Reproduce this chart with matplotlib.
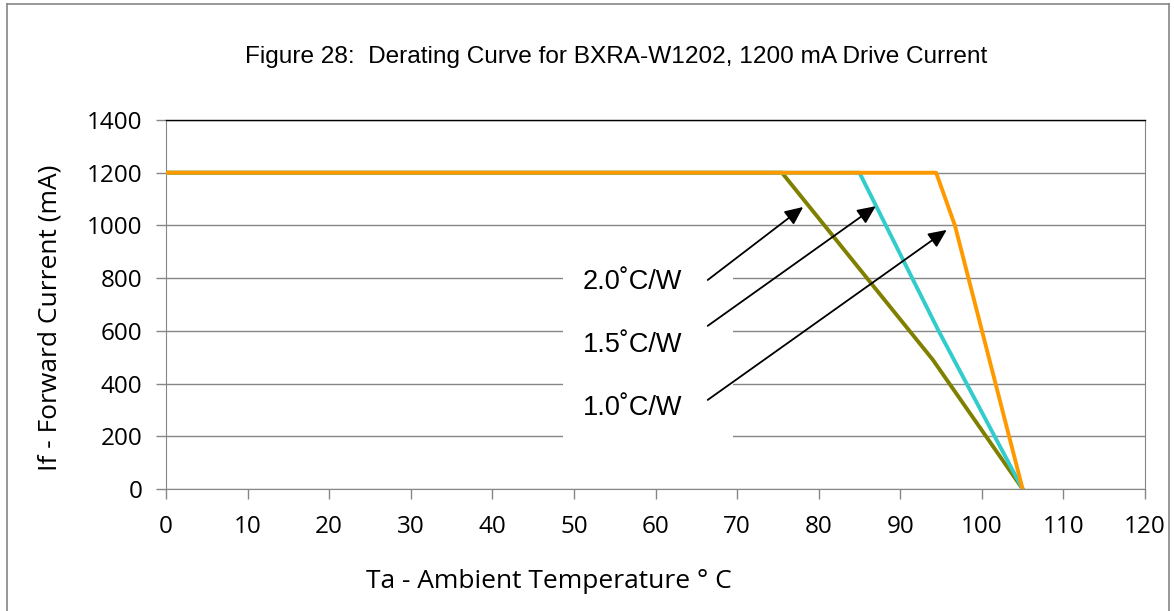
import matplotlib
matplotlib.use("Agg")
import matplotlib.pyplot as plt
from matplotlib.patches import Rectangle
from matplotlib.lines import Line2D

# derating curves (Ta in C, If in mA)
ta_2p0 = [0, 75.5, 94.0, 105]
if_2p0 = [1200, 1200, 490, 0]
ta_1p5 = [0, 85, 94.7, 105]
if_1p5 = [1200, 1200, 600, 0]
ta_1p0 = [0, 94.4, 96.7, 105]
if_1p0 = [1200, 1200, 1000, 0]

labels = ["2.0˚C/W", "1.5˚C/W", "1.0˚C/W"]
label_y = [785, 546, 307]
arrow_tail_y = [793, 619, 338]
arrow_tip = [(78.1, 1070), (87.0, 1073), (95.7, 983)]

grid_col = "#868686"

fig = plt.figure(figsize=(11.74, 6.11), dpi=100)
ax = fig.add_axes([166 / 1174, 1 - 489 / 611, (1145 - 166) / 1174, (489 - 120) / 611])

ax.set_xlim(0, 120)
ax.set_ylim(0, 1400)
ax.set_xticks(range(0, 121, 10))
ax.set_yticks(range(0, 1401, 200))
ax.yaxis.grid(True, color=grid_col, linewidth=1.0)
ax.set_axisbelow(True)

for s in ["left", "bottom", "right"]:
    ax.spines[s].set_color(grid_col)
ax.spines["top"].set_color("black")
ax.spines["top"].set_linewidth(1.0)

tick_font = "Open Sans"
ax.tick_params(axis="both", colors=grid_col, length=7, width=1, labelcolor="black",
               labelsize=17.5)
ax.tick_params(axis="x", pad=12)
ax.tick_params(axis="y", pad=10)
for lab in ax.get_xticklabels() + ax.get_yticklabels():
    lab.set_fontfamily(tick_font)

# white box behind the labels
ax.add_patch(Rectangle((48.7, 150), 20.8, 750, facecolor="white", edgecolor="none", zorder=1.5))

ax.plot(ta_2p0, if_2p0, color="#808000", linewidth=2.8, zorder=3)
ax.plot(ta_1p5, if_1p5, color="#33CCCC", linewidth=2.8, zorder=3)
ax.plot(ta_1p0, if_1p0, color="#FF9900", linewidth=2.8, zorder=3)

for lab, ly, ty, tip in zip(labels, label_y, arrow_tail_y, arrow_tip):
    ax.text(57.2, ly, lab, ha="center", va="center", fontsize=19.5,
            family="Liberation Sans", zorder=4)
    ax.annotate("", xy=tip, xytext=(66.4, ty),
                arrowprops=dict(arrowstyle="-|>,head_length=1.1,head_width=0.5",
                                color="black", lw=1.3, shrinkA=0, shrinkB=0),
                zorder=5)

fig.text(616 / 1174, 1 - 57 / 611,
         "Figure 28:  Derating Curve for BXRA-W1202, 1200 mA Drive Current",
         ha="center", va="center", fontsize=17.6, family="Liberation Sans")
fig.text(549 / 1174, 1 - 582 / 611, "Ta - Ambient Temperature ° C",
         ha="center", va="center", fontsize=19, family=tick_font)
fig.text(50 / 1174, 1 - 318 / 611, "If - Forward Current (mA)",
         ha="center", va="center", fontsize=19, family=tick_font, rotation=90)

# chart border
for xs, ys in [([7 / 1174, 7 / 1174], [0, 1 - 4 / 611]),
               ([7 / 1174, 1169 / 1174], [1 - 4 / 611, 1 - 4 / 611]),
               ([1169 / 1174, 1169 / 1174], [1 - 4 / 611, 0])]:
    fig.add_artist(Line2D(xs, ys, color=grid_col, linewidth=1.2))

fig.savefig("out.png", dpi=100)
